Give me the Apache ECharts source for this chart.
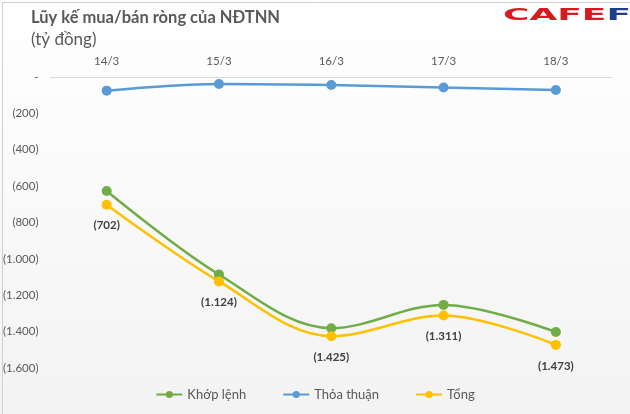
<!DOCTYPE html>
<html><head><meta charset="utf-8">
<script src="https://cdn.jsdelivr.net/npm/echarts@6/dist/echarts.min.js"></script>
<style>html,body{margin:0;padding:0;}#c{width:630px;height:414px;}</style>
</head><body><div id="c"></div>
<script>
const categories = ['14/3','15/3','16/3','17/3','18/3'];
const khopLenh = [-627, -1086, -1381, -1253, -1402];
const thoaThuan = [-75, -38, -44, -58, -71];
const tong = [-702, -1124, -1425, -1311, -1473];
const yTicks = [0, -200, -400, -600, -800, -1000, -1200, -1400, -1600];

function fmt(v){
  if (v === 0) return '-';
  const a = Math.abs(v).toString().replace(/\B(?=(\d{3})+(?!\d))/g, '.');
  return v < 0 ? '(' + a + ')' : a;
}
const font = 'Lato, "Open Sans", sans-serif';
const chart = echarts.init(document.getElementById('c'));
chart.setOption({
  animation: false,
  backgroundColor: new echarts.graphic.LinearGradient(0,0,0,1,[{offset:0,color:'#ffffff'},{offset:1,color:'#f3f3f3'}]),
  textStyle: {fontFamily: font},
  graphic: [
    {type:'rect', left:0, top:0, shape:{width:629, height:413}, style:{fill:'none', stroke:'#d0d0d0', lineWidth:1}},
    {type:'text', left:31, top:9, style:{text:'Lũy kế mua/bán ròng của NĐTNN', font:'bold 16.5px ' + font, fill:'#595959'}},
    {type:'text', left:31, top:31, style:{text:'(tỷ đồng)', font:'17px ' + font, fill:'#595959'}},
    {type:'text', x:503, y:8, scaleX:2.25, scaleY:1, style:{text:'{r|CAFE}{b|F}', rich:{
      r:{fontSize:16, fontWeight:'bold', fill:'#d71920', fontFamily:'"DejaVu Sans", sans-serif'},
      b:{fontSize:16, fontWeight:'bold', fill:'#1c3f8c', fontFamily:'"DejaVu Sans", sans-serif'}
    }}}
  ],
  legend: {
    bottom: 8, left: 'center', itemGap: 36, itemWidth: 26, itemHeight: 9,
    textStyle: {color:'#595959', fontSize: 13, fontFamily: font},
    data: ['Khớp lệnh','Thỏa thuận','Tổng']
  },
  grid: {left: 50, right: 18, top: 77, bottom: 46},
  xAxis: {
    type:'category', data: categories, position:'top', boundaryGap:true,
    axisLine:{lineStyle:{color:'#d9d9d9'}}, axisTick:{show:false},
    axisLabel:{color:'#595959', fontSize:11.5, margin:10}
  },
  yAxis: {
    type:'value', min:-1600, max:0, interval:200,
    axisLine:{show:false}, axisTick:{show:false}, splitLine:{show:false},
    axisLabel:{color:'#595959', fontSize:11.5, margin:12, formatter: fmt}
  },
  series: [
    {name:'Khớp lệnh', type:'line', data:khopLenh, smooth:0.35, symbol:'circle', symbolSize:10,
     itemStyle:{color:'#70AD47'}, lineStyle:{width:2.5, color:'#70AD47'}},
    {name:'Thỏa thuận', type:'line', data:thoaThuan, smooth:0.35, symbol:'circle', symbolSize:10,
     itemStyle:{color:'#5B9BD5'}, lineStyle:{width:2.5, color:'#5B9BD5'}},
    {name:'Tổng', type:'line', data:tong, smooth:0.35, symbol:'circle', symbolSize:10,
     itemStyle:{color:'#FFC000'}, lineStyle:{width:2.5, color:'#FFC000'},
     label:{show:true, position:'bottom', distance:10, color:'#404040', fontWeight:'bold', fontSize:11.5, formatter:p=>fmt(p.value)}}
  ]
});
</script></body></html>
